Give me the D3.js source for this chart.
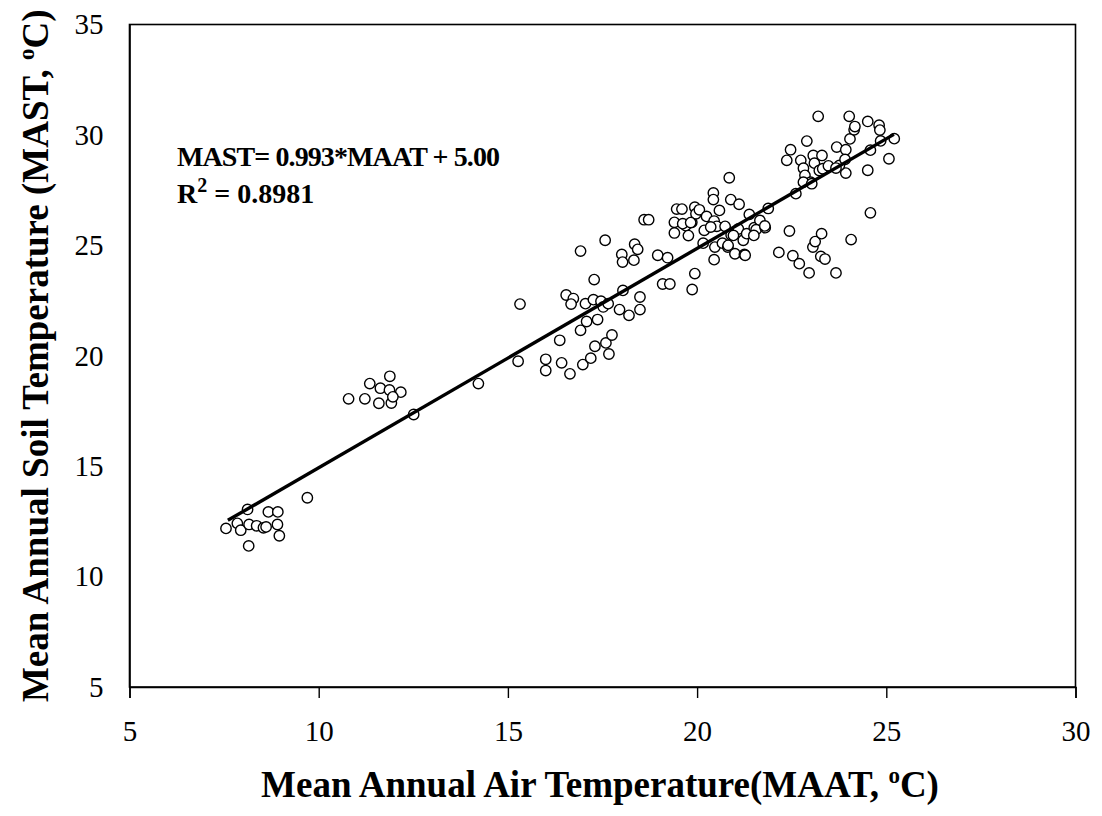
<!DOCTYPE html>
<html><head><meta charset="utf-8">
<script src="https://cdn.jsdelivr.net/npm/d3@7"></script>
<style>body{margin:0;background:#fff}svg{display:block}</style>
</head><body>
<svg id="c" width="1102" height="816"></svg>
<script>
const xTicks = [5, 10, 15, 20, 25, 30];
const yTicks = [5, 10, 15, 20, 25, 30, 35];
const slope = 0.993, intercept = 5.00, r2 = "0.8981";
const fitRange = [7.6, 25.2];
const maat = [
7.55,7.85,7.94,8.12,8.16,8.15,8.36,8.54,8.61,8.67,8.92,8.91,8.96,9.70,
10.79,11.22,11.35,11.63,11.88,11.87,12.17,11.59,11.92,11.96,12.51,14.22,
15.27,15.32,16.0,16.0,16.42,16.64,16.37,16.54,16.73,16.67,16.92,16.98,17.19,17.08,17.05,17.28,17.26,17.37,17.30,17.46,17.52,17.65,17.59,17.75,17.67,18.04,17.95,18.20,18.49,18.49,16.92,17.57,18.01,18.03,18.33,18.35,18.43,18.96,19.22,19.09,19.28,18.60,18.72,19.94,19.87,
19.40,19.40,19.46,19.60,19.70,19.77,19.86,19.94,19.97,20.06,20.25,20.19,20.16,20.43,20.43,20.59,20.45,20.52,20.74,20.47,20.45,20.67,20.81,20.90,21.0,21.25,20.85,20.89,21.11,21.09,21.22,21.31,21.38,21.51,21.66,21.56,21.80,21.88,19.62,19.83,20.36,20.96,20.82,21.27,21.50,21.79,
22.16,22.44,22.53,22.70,22.96,22.61,23.06,23.12,23.29,23.27,23.38,23.67,24.07,22.37,22.47,22.74,22.90,22.81,22.85,23.0,23.07,23.10,23.30,23.23,23.32,23.47,23.20,23.69,23.93,23.93,23.76,24.02,24.04,24.15,24.17,23.91,23.67,24.51,24.81,24.83,24.85,24.58,25.21,25.07,24.51,24.58,22.81,23.03
];
const mast = [
12.18,12.41,12.10,13.04,12.36,11.39,12.30,12.21,12.25,12.93,12.93,12.36,11.85,13.57,
18.05,18.05,18.74,18.53,19.07,18.45,18.35,17.85,17.86,18.14,17.34,18.74,
19.75,22.34,19.84,19.33,19.68,19.18,20.70,22.75,22.59,22.34,21.15,19.60,19.89,21.55,22.36,23.45,22.54,21.64,20.43,22.47,22.21,22.36,20.58,20.94,20.08,22.96,22.09,21.83,22.66,22.09,24.74,25.23,24.59,24.24,24.33,25.05,24.82,24.55,24.44,23.25,23.25,26.16,26.16,23.72,23.0,
26.04,25.56,26.64,26.64,25.89,25.44,26.04,26.73,26.43,26.61,26.31,25.68,25.10,27.37,27.07,26.58,26.10,25.86,25.86,24.92,24.35,25.10,24.92,25.47,24.62,24.59,28.06,27.07,26.86,25.74,25.23,25.53,26.40,25.80,26.13,25.71,25.80,26.67,25.98,26.03,25.83,25.45,25.0,24.55,25.45,25.88,
24.68,25.65,24.53,24.17,23.75,27.34,24.92,25.17,25.53,24.50,24.38,23.75,25.26,28.85,29.33,28.85,29.72,28.49,28.17,27.86,29.07,28.72,29.07,28.39,28.47,28.60,30.84,29.45,29.33,28.27,28.62,30.84,29.82,30.23,30.38,28.89,28.50,30.61,30.44,30.22,29.73,29.31,29.83,28.92,28.40,26.47,27.86,27.79
];
const points = maat.map((x, i) => ({x, y: mast[i]}));

const svg = d3.select("#c");
const L = 129.5, R = 1075.5, T = 24.5, B = 687;
const x = d3.scaleLinear().domain([5, 30]).range([L, R]);
const y = d3.scaleLinear().domain([5, 35]).range([B, T]);
const serif = "'Liberation Serif','Times New Roman',serif";

// frame
svg.append("rect").attr("x", L).attr("y", T).attr("width", R - L).attr("height", B - T)
  .attr("fill", "none").attr("stroke", "#000").attr("stroke-width", 1.6);

// x axis
const xa = svg.append("g").attr("transform", `translate(0,${B})`)
  .call(d3.axisBottom(x).tickValues(xTicks).tickSize(11).tickPadding(22).tickFormat(d3.format("d")));
xa.attr("font-family", null).attr("font-size", null);
xa.select(".domain").attr("stroke-width", 1.6);
xa.selectAll(".tick line").attr("stroke-width", 1.4);
xa.selectAll("text").style("font-family", serif).style("font-size", "29px").attr("fill", "#000");

// y axis
const ya = svg.append("g").attr("transform", `translate(${L},0)`)
  .call(d3.axisLeft(y).tickValues(yTicks).tickSize(0).tickPadding(26).tickFormat(d3.format("d")));
ya.attr("font-family", null).attr("font-size", null);
ya.select(".domain").attr("stroke-width", 1.6);
ya.selectAll("text").style("font-family", serif).style("font-size", "29px").attr("fill", "#000");

// points
svg.append("g").selectAll("circle").data(points).join("circle")
  .attr("cx", d => x(d.x)).attr("cy", d => y(d.y)).attr("r", 5.2)
  .attr("fill", "#fff").attr("stroke", "#000").attr("stroke-width", 1.4);

// regression line
svg.append("line")
  .attr("x1", x(fitRange[0])).attr("y1", y(slope * fitRange[0] + intercept))
  .attr("x2", x(fitRange[1])).attr("y2", y(slope * fitRange[1] + intercept))
  .attr("stroke", "#000").attr("stroke-width", 3.4);

// equation
const eq = svg.append("g").style("font-family", serif).attr("font-weight", "bold").attr("font-size", 28);
eq.append("text").attr("x", 177).attr("y", 166).attr("textLength", 323)
  .text(`MAST= ${slope}*MAAT + ${intercept.toFixed(2)}`);
const r2t = eq.append("text").attr("x", 177).attr("y", 203);
r2t.append("tspan").text("R");
r2t.append("tspan").attr("font-size", 20).attr("dy", -11).text("2");
r2t.append("tspan").attr("dy", 11).text(` = ${r2}`);

// axis titles
const xt = svg.append("text").attr("x", 600).attr("y", 797).attr("text-anchor", "middle")
  .style("font-family", serif).attr("font-weight", "bold").attr("font-size", 37);
xt.append("tspan").text("Mean Annual Air Temperature(MAAT, ");
xt.append("tspan").attr("font-size", 23).attr("dy", -14).text("o");
xt.append("tspan").attr("dy", 14).text("C)");

const yt = svg.append("text").attr("transform", `translate(48,${(T + B) / 2}) rotate(-90)`).attr("text-anchor", "middle")
  .style("font-family", serif).attr("font-weight", "bold").attr("font-size", 37);
yt.append("tspan").text("Mean Annual Soil Temperature (MAST, ");
yt.append("tspan").attr("font-size", 23).attr("dy", -14).text("o");
yt.append("tspan").attr("dy", 14).text("C)");
</script>
</body></html>
